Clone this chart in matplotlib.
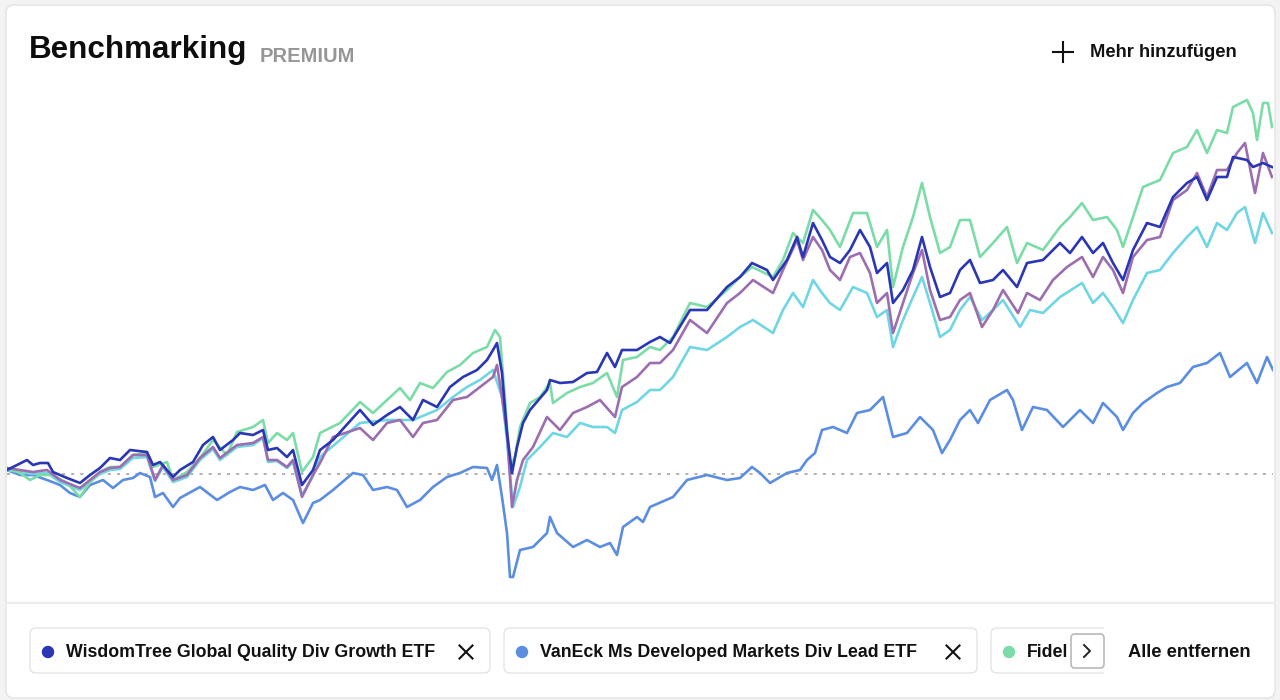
import matplotlib
matplotlib.use("Agg")
import matplotlib.pyplot as plt
from matplotlib.patches import FancyBboxPatch, Rectangle, Circle

plt.rcParams['font.family'] = ['Liberation Sans', 'DejaVu Sans']

# Wertentwicklung in % seit Start, x = Handelstag
wt_tage = [7,13,27,33,40,48,53,67,80,90,100,110,120,130,147,153,160,173,180,193,
           203,213,220,233,240,253,263,268,277,287,293,302,313,320,333,360,373,387,400,413,
           423,437,450,463,477,487,493,497,502,507,512,517,523,530,547,550,560,573,587,597,
           607,615,622,637,650,660,670,690,707,727,740,752,767,773,787,797,803,813,822,830,
           840,850,860,870,877,887,893,903,913,922,930,940,950,960,970,980,993,1003,1017,1027,
           1043,1060,1070,1082,1093,1103,1113,1123,1133,1147,1160,1173,1187,1197,1207,1217,1227,1233,1247,1253,
           1263,1272]
wt_werte = [1.0,1.75,3.5,2.25,2.75,2.75,0.5,-1.0,-2.25,-0.25,1.5,4.0,3.5,6.0,5.5,2.25,3.0,-0.75,1.0,3.0,
            7.25,9.25,6.0,8.5,10.25,9.75,11.0,6.0,6.5,4.25,6.0,-2.75,1.0,6.0,8.5,16.0,12.25,14.75,16.75,13.5,
            18.5,16.75,21.75,24.25,26.0,28.5,31.0,32.75,25.25,10.25,0.25,6.75,12.75,16.0,21.0,23.5,22.75,23.0,25.25,25.5,
            30.25,26.75,31.0,31.0,33.0,34.25,32.75,41.0,41.0,46.75,49.25,52.75,51.0,48.5,53.5,59.25,54.25,62.75,58.5,54.25,
            52.75,56.0,61.0,56.75,50.25,52.75,42.75,46.0,51.0,59.25,51.75,44.25,45.25,51.0,53.5,47.75,48.5,51.0,46.75,52.75,
            53.5,57.75,55.25,59.25,55.25,57.75,52.75,48.5,56.0,62.75,61.75,69.25,72.75,74.25,68.5,74.25,74.25,79.25,78.5,76.75,
            77.75,76.75]

ve_tage = [7,20,33,47,60,70,80,90,103,113,123,133,140,150,155,163,173,180,200,217,
           230,240,253,265,273,283,293,303,313,320,333,353,363,373,387,397,407,420,433,447,
           460,473,487,492,497,502,507,510,513,520,533,547,550,557,573,587,600,610,617,623,
           637,643,650,673,687,707,727,740,752,760,770,787,800,807,815,822,833,847,857,870,
           883,893,907,920,933,942,950,960,970,978,990,1007,1013,1022,1033,1047,1063,1080,1093,1103,
           1117,1123,1133,1143,1157,1167,1180,1193,1207,1220,1230,1247,1257,1267,1273]
ve_werte = [1.0,-0.25,-0.25,-1.5,-2.75,-4.75,-5.75,-2.75,-1.5,-3.5,-1.5,-1.0,0.25,-0.75,-5.75,-4.75,-8.25,-6.0,-3.25,-6.5,
            -4.5,-3.25,-4.0,-2.75,-6.5,-4.75,-6.5,-12.25,-7.25,-6.5,-4.0,0.25,-0.25,-4.0,-3.25,-4.0,-8.25,-6.5,-3.25,-0.75,
            0.25,1.75,1.5,-1.5,2.25,-5.75,-14.75,-25.75,-25.75,-19.0,-18.25,-14.75,-10.75,-14.75,-18.25,-16.5,-18.25,-17.25,-20.25,-13.25,
            -10.75,-12.0,-8.25,-5.75,-1.5,-0.25,-1.5,-1.0,1.75,0.25,-2.25,0.25,1.0,3.5,5.25,11.0,11.75,10.25,15.25,16.0,
            19.25,9.25,10.25,14.25,11.0,5.25,8.5,13.5,16.0,12.75,18.5,21.0,18.5,11.0,16.75,16.0,11.75,16.0,12.75,17.75,
            14.25,11.0,15.25,17.75,20.25,21.75,22.75,26.75,27.75,30.25,24.25,27.75,22.75,29.25,26.0]

fi_tage = [7,20,30,40,53,67,80,90,100,110,120,133,147,153,167,173,187,200,213,227,
           237,253,263,268,277,287,293,302,313,320,340,360,373,387,400,410,420,433,447,460,
           473,487,495,500,505,510,515,520,530,540,550,553,567,580,593,607,617,623,637,650,
           660,673,690,707,727,740,752,773,783,793,803,813,822,830,840,853,867,877,887,893,
           903,913,922,930,940,950,960,970,980,993,1007,1017,1027,1043,1060,1070,1082,1093,1107,1117,
           1123,1133,1143,1160,1173,1187,1197,1207,1217,1227,1233,1247,1253,1257,1263,1268,1272]
fi_werte = [1.5,0.25,-1.5,-0.25,-0.25,-2.25,-5.75,-2.0,0.5,1.75,1.75,4.75,5.25,1.75,3.0,-1.5,0.5,4.0,8.5,4.75,
            10.5,11.75,13.5,7.75,10.25,8.5,10.25,0.5,4.25,10.25,12.75,18.0,15.25,18.5,21.5,18.5,22.75,21.5,25.5,27.25,
            30.25,31.75,36.0,34.25,18.5,1.75,4.25,11.75,17.75,19.25,22.75,17.75,20.25,21.75,22.75,25.25,19.25,28.5,29.25,31.75,
            31.0,34.25,42.75,41.75,46.0,49.25,51.75,49.25,53.5,60.25,57.75,66.0,63.5,61.0,56.75,65.25,65.25,56.75,61.0,46.75,
            56.75,64.25,72.75,64.25,55.25,56.75,63.5,63.5,54.25,57.75,61.75,52.75,57.75,56.0,61.75,64.25,67.75,63.5,64.25,61.0,
            56.75,64.25,71.75,73.5,80.25,81.75,86.0,80.25,86.0,85.25,91.75,93.5,90.25,83.5,92.75,92.75,86.75]

li_tage = [7,20,33,47,60,80,90,100,110,120,133,147,155,163,173,187,200,213,220,237,
           253,263,268,277,287,293,302,313,320,333,360,373,387,400,413,423,437,453,467,480,
           493,497,502,507,512,517,523,533,547,560,573,587,600,615,622,637,650,660,673,690,
           707,727,740,753,773,783,797,803,813,822,830,840,850,860,870,877,887,893,903,913,
           922,930,940,950,960,970,982,993,1003,1018,1027,1040,1053,1067,1082,1093,1103,1113,1123,1133,
           1147,1160,1173,1187,1197,1207,1217,1227,1237,1245,1255,1263,1272]
li_werte = [1.5,1.0,0.5,1.0,-1.5,-3.5,-1.5,0.5,1.5,1.75,4.75,4.75,-1.5,2.25,-1.5,-0.25,4.0,6.75,4.0,7.25,
            7.75,9.25,3.5,3.5,1.75,3.5,-5.75,-0.25,2.75,9.25,11.5,8.5,12.75,13.5,9.25,12.75,13.5,18.5,19.25,21.75,
            24.25,27.25,19.25,10.25,-8.25,-1.5,3.5,6.75,14.25,11.0,15.25,16.75,18.5,14.25,21.75,24.25,27.75,27.75,31.0,38.5,
            35.25,42.75,45.25,48.5,45.25,51.0,58.5,53.5,59.25,56.0,51.0,48.5,54.25,55.25,50.25,42.75,45.25,35.25,42.75,50.25,
            56.0,46.0,38.5,39.25,43.5,45.25,36.75,41.0,46.0,40.25,45.25,43.5,48.5,51.75,54.25,49.25,54.25,51.0,45.25,54.25,
            58.5,59.25,68.5,71.0,75.25,69.25,76.0,76.0,80.25,82.75,70.25,80.25,74.25]

tu_tage = [7,20,33,47,60,80,90,100,110,120,133,147,155,163,173,187,200,213,220,237,
           253,263,268,277,287,293,302,313,320,360,387,413,437,453,467,480,493,502,507,513,
           520,527,540,553,567,580,593,607,615,622,637,650,660,673,690,707,727,740,753,773,
           783,793,803,813,822,830,840,853,867,877,887,893,903,913,922,930,940,950,960,970,
           982,993,1003,1020,1030,1043,1060,1082,1093,1103,1113,1123,1133,1147,1160,1173,1187,1197,1207,1217,
           1227,1237,1245,1255,1263,1272]
tu_werte = [1.0,0.5,0.0,0.25,-2.0,-4.0,-2.0,0.0,1.0,1.25,4.0,4.25,-1.75,1.75,-2.0,-0.75,3.5,6.25,3.5,6.75,
            7.25,9.0,3.0,3.25,1.5,3.0,-5.25,-0.5,4.25,12.75,13.5,13.5,16.0,19.25,21.75,23.5,26.0,19.25,8.5,-8.25,
            -3.25,3.5,6.75,10.25,9.25,12.75,11.75,11.75,10.25,16.0,18.0,21.0,21.0,24.25,31.75,31.0,34.25,36.75,38.5,35.25,
            41.0,45.25,41.75,48.5,45.25,42.75,41.0,46.75,45.25,39.25,41.0,31.75,38.5,44.25,49.25,42.75,34.25,36.0,41.0,44.25,
            38.5,41.0,43.5,36.75,41.0,40.25,44.25,47.75,42.75,45.25,41.75,37.75,43.5,50.25,51.0,55.25,59.25,61.75,56.75,62.75,
            61.0,65.25,66.75,57.75,65.25,60.25]

# sichtbare Chip-Beschriftungen (der dritte Chip ist abgeschnitten)
namen = ["WisdomTree Global Quality Div Growth ETF",
         "VanEck Ms Developed Markets Div Lead ETF",
         "Fidel"]
farbe_wt = "#2a36b4"
farbe_ve = "#5b8ee0"
farbe_fi = "#7bdca7"
farbe_li = "#9c6eb0"
farbe_tu = "#70d6e4"

fig = plt.figure(figsize=(12.8, 7.0), dpi=100, facecolor="#f3f3f3")

# Hintergrund / Karte
ui = fig.add_axes([0, 0, 1, 1])
ui.set_xlim(0, 1280)
ui.set_ylim(700, 0)
ui.axis("off")
ui.add_patch(FancyBboxPatch((6, 5), 1269, 693, boxstyle="round,pad=0,rounding_size=8",
                            fc="white", ec="#e3e3e3", lw=1))
ui.plot([6, 1275], [603, 603], color="#ececec", lw=1.5)

# Kopfzeile
ui.text(29, 58, "Benchmarking", fontsize=22.6, fontweight="bold", color="#0d0d0d", va="baseline")
ui.text(260, 62, "PREMIUM", fontsize=14.5, fontweight="bold", color="#969696", va="baseline")
ui.plot([1053, 1073], [52, 52], color="#111111", lw=1.5)
ui.plot([1063, 1063], [42, 62], color="#111111", lw=1.5)
ui.text(1090, 57, "Mehr hinzufügen", fontsize=13.2, fontweight="bold", color="#111111", va="baseline")

# Diagramm
ax = fig.add_axes([7/1280, 100/700, 1266/1280, 520/700])
ax.patch.set_alpha(0)
ax.axis("off")
ax.set_xlim(7, 1273)
ax.set_ylim(-31.5, 98.5)
ax.axhline(0, color="#9c9c9c", lw=1.1, ls=(0, (2, 4)))
ax.plot(ve_tage, ve_werte, color=farbe_ve, lw=1.9, solid_joinstyle="round")
ax.plot(tu_tage, tu_werte, color=farbe_tu, lw=1.9, solid_joinstyle="round")
ax.plot(fi_tage, fi_werte, color=farbe_fi, lw=1.9, solid_joinstyle="round")
ax.plot(li_tage, li_werte, color=farbe_li, lw=1.9, solid_joinstyle="round")
ax.plot(wt_tage, wt_werte, color=farbe_wt, lw=1.9, solid_joinstyle="round")

# Legenden-Chips
clip_chip = Rectangle((0, 0), 1104, 700, transform=ui.transData)
chips = [(30, 460, namen[0], farbe_wt, True),
         (504, 473, namen[1], farbe_ve, True),
         (991, 160, namen[2], farbe_fi, False)]
for x0, breite, name, farbe, voll in chips:
    p = FancyBboxPatch((x0, 628), breite, 45, boxstyle="round,pad=0,rounding_size=6",
                       fc="white", ec="#e4e4e4", lw=1)
    ui.add_patch(p)
    ui.add_patch(Circle((x0 + 18, 652), 5.5, color=farbe))
    ui.text(x0 + 36, 657, name, fontsize=12.8, fontweight="bold", color="#111111", va="baseline")
    if voll:
        xc = x0 + breite - 24
        ui.plot([xc - 6.5, xc + 6.5], [645.5, 658.5], color="#111111", lw=1.5)
        ui.plot([xc - 6.5, xc + 6.5], [658.5, 645.5], color="#111111", lw=1.5)
    else:
        p.set_clip_path(clip_chip)

ui.add_patch(FancyBboxPatch((1071, 634), 33, 34, boxstyle="round,pad=0,rounding_size=4",
                            fc="white", ec="#b9b9b9", lw=1.2, zorder=5))
ui.plot([1084, 1090, 1084], [645, 651, 657], color="#222222", lw=1.4, zorder=6)
ui.text(1128, 657, "Alle entfernen", fontsize=13.2, fontweight="bold", color="#111111", va="baseline")

fig.savefig("out.png", dpi=100, facecolor=fig.get_facecolor())
